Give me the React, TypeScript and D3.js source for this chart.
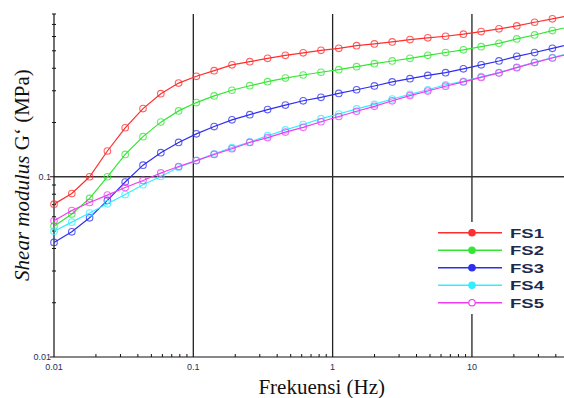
import React from "react";
import * as d3 from "d3";

const freqs = [0.01, 0.01342, 0.01801, 0.02417, 0.03244, 0.04354, 0.05843, 0.07842, 0.1052, 0.1412, 0.1895, 0.2543, 0.3413, 0.4581, 0.6148, 0.8251, 1.107, 1.486, 1.994, 2.677, 3.592, 4.821, 6.47, 8.683, 11.65, 15.64, 20.99, 28.17, 37.8, 50.73];

const fs1 = [0.0705, 0.0807, 0.1, 0.139, 0.187, 0.239, 0.289, 0.331, 0.361, 0.388, 0.418, 0.435, 0.454, 0.472, 0.487, 0.503, 0.516, 0.534, 0.546, 0.56, 0.577, 0.59, 0.602, 0.618, 0.639, 0.662, 0.687, 0.72, 0.752, 0.784];
const fs2 = [0.0532, 0.0621, 0.0758, 0.1, 0.133, 0.167, 0.201, 0.232, 0.258, 0.281, 0.302, 0.32, 0.337, 0.353, 0.367, 0.38, 0.393, 0.408, 0.424, 0.439, 0.454, 0.472, 0.489, 0.506, 0.527, 0.55, 0.582, 0.612, 0.647, 0.681];
const fs3 = [0.0432, 0.0495, 0.0592, 0.0739, 0.0935, 0.116, 0.136, 0.155, 0.173, 0.19, 0.207, 0.221, 0.236, 0.25, 0.264, 0.276, 0.29, 0.304, 0.319, 0.336, 0.35, 0.365, 0.378, 0.397, 0.418, 0.439, 0.466, 0.489, 0.516, 0.545];
const fs4 = [0.0499, 0.056, 0.0629, 0.0708, 0.0797, 0.0903, 0.1004, 0.113, 0.123, 0.134, 0.145, 0.156, 0.169, 0.182, 0.195, 0.21, 0.223, 0.238, 0.252, 0.27, 0.287, 0.304, 0.324, 0.338, 0.359, 0.378, 0.405, 0.432, 0.458, 0.485];
const fs5 = [0.057, 0.065, 0.072, 0.0791, 0.0872, 0.0954, 0.105, 0.114, 0.123, 0.133, 0.143, 0.155, 0.165, 0.177, 0.188, 0.202, 0.216, 0.231, 0.246, 0.264, 0.282, 0.299, 0.318, 0.336, 0.356, 0.377, 0.403, 0.43, 0.456, 0.482];

const seriesNames = ["FS1", "FS2", "FS3", "FS4", "FS5"];
const seriesColors = ["#ff2e2e", "#33e633", "#2e2eee", "#33eeff", "#f03cf0"];
const seriesValues = [fs1, fs2, fs3, fs4, fs5];

const xTickLabels = [0.01, 0.1, 1, 10];
const yTickLabels = [0.01, 0.1];
const xGrid = [0.1, 1, 10];
const yGrid = [0.1];

const W = 564;
const H = 398;

export default function App() {
  const x = d3.scaleLog().domain([0.01, 45.8]).range([54, 564]);
  const y = d3.scaleLog().domain([0.01, 0.8]).range([357, 14]);
  const line = d3
    .line<[number, number]>()
    .x((d) => x(d[0]))
    .y((d) => y(d[1]));

  const xMinor: number[] = [];
  [0.01, 0.1, 1, 10].forEach((dec) => {
    for (let k = 2; k <= 9; k++) {
      const v = dec * k;
      if (v <= 45.8) xMinor.push(v);
    }
  });
  const yMinor: number[] = [];
  [0.01, 0.1].forEach((dec) => {
    for (let k = 2; k <= 9; k++) {
      const v = dec * k;
      if (v <= 0.8) yMinor.push(v);
    }
  });

  const legendRows = seriesNames.map((n, i) => 232.7 + i * 17.5);
  const tickColor = "#22305a";

  return (
    <svg
      width={W}
      height={H}
      style={{ position: "absolute", left: 0, top: 0, background: "#fff" }}
      fontFamily="Liberation Sans, Arial, sans-serif"
    >
      <defs>
        <clipPath id="plot">
          <rect x={50} y={10} width={W - 50} height={350} />
        </clipPath>
      </defs>
      <rect x={0} y={0} width={W} height={H} fill="#fff" />

      {/* grid */}
      {xGrid.map((g) => (
        <line key={"xg" + g} x1={x(g)} x2={x(g)} y1={y(0.8)} y2={y(0.01)} stroke="#222" strokeWidth={1.3} />
      ))}
      {yGrid.map((g) => (
        <line key={"yg" + g} x1={x(0.01)} x2={W} y1={y(g)} y2={y(g)} stroke="#333" strokeWidth={1.3} />
      ))}

      {/* axes */}
      <line x1={x(0.01)} x2={x(0.01)} y1={y(0.8)} y2={y(0.01)} stroke="#111" strokeWidth={1.2} />
      <line x1={x(0.01)} x2={W} y1={y(0.01)} y2={y(0.01)} stroke="#111" strokeWidth={1.2} />
      {xMinor.map((v) => (
        <line key={"xm" + v} x1={x(v)} x2={x(v)} y1={y(0.01)} y2={y(0.01) - 3} stroke="#111" strokeWidth={1} />
      ))}
      {yMinor.map((v) => (
        <line key={"ym" + v} x1={x(0.01) - 2} x2={x(0.01) + 2} y1={y(v)} y2={y(v)} stroke="#111" strokeWidth={1} />
      ))}
      {yTickLabels.map((v) => (
        <line key={"yM" + v} x1={x(0.01) - 4} x2={x(0.01)} y1={y(v)} y2={y(v)} stroke="#111" strokeWidth={1} />
      ))}

      {/* tick labels */}
      {xTickLabels.map((v) => (
        <text key={"xl" + v} x={x(v)} y={370} fontSize={9} textAnchor="middle" fill={tickColor}>
          {String(v)}
        </text>
      ))}
      {yTickLabels.map((v) => (
        <text key={"yl" + v} x={x(0.01) - 3} y={y(v) + 3} fontSize={9} textAnchor="end" fill={tickColor}>
          {String(v)}
        </text>
      ))}

      {/* series */}
      <g clipPath="url(#plot)">
        {seriesValues.map((vals, i) => {
          const pts = freqs.map((f, j) => [f, vals[j]] as [number, number]);
          return (
            <g key={seriesNames[i]}>
              <path d={line(pts) || ""} fill="none" stroke={seriesColors[i]} strokeWidth={1.2} />
              {pts.map((p, j) => (
                <circle
                  key={j}
                  cx={x(p[0])}
                  cy={y(p[1])}
                  r={3.3}
                  fill="none"
                  stroke={seriesColors[i]}
                  strokeOpacity={0.75}
                  strokeWidth={1.1}
                />
              ))}
            </g>
          );
        })}
      </g>

      {/* legend */}
      <rect x={435} y={222} width={118} height={92} fill="#fff" />
      {seriesNames.map((n, i) => (
        <g key={"lg" + n}>
          <line x1={438} x2={502} y1={legendRows[i]} y2={legendRows[i]} stroke={seriesColors[i]} strokeWidth={1.4} />
          <circle cx={472} cy={legendRows[i]} r={3.2} fill={i === 4 ? "#fff" : seriesColors[i]} stroke={seriesColors[i]} strokeWidth={1.2} />
          <text
            x={510}
            y={legendRows[i] + 4.8}
            fontSize={13}
            fontWeight="bold"
            fill="#1c2a4e"
            textLength={34}
            lengthAdjust="spacingAndGlyphs"
          >
            {n}
          </text>
        </g>
      ))}

      {/* axis titles */}
      <text x={321.7} y={394} fontSize={21} textAnchor="middle" fontFamily="Liberation Serif, Times New Roman, serif" fill="#111">
        Frekuensi (Hz)
      </text>
      <text
        transform={`translate(29,175) rotate(-90)`}
        fontSize={21}
        textAnchor="middle"
        fontFamily="Liberation Serif, Times New Roman, serif"
        fill="#111"
      >
        <tspan fontStyle="italic">Shear modulus</tspan>
        <tspan> G‘ (MPa)</tspan>
      </text>
    </svg>
  );
}
